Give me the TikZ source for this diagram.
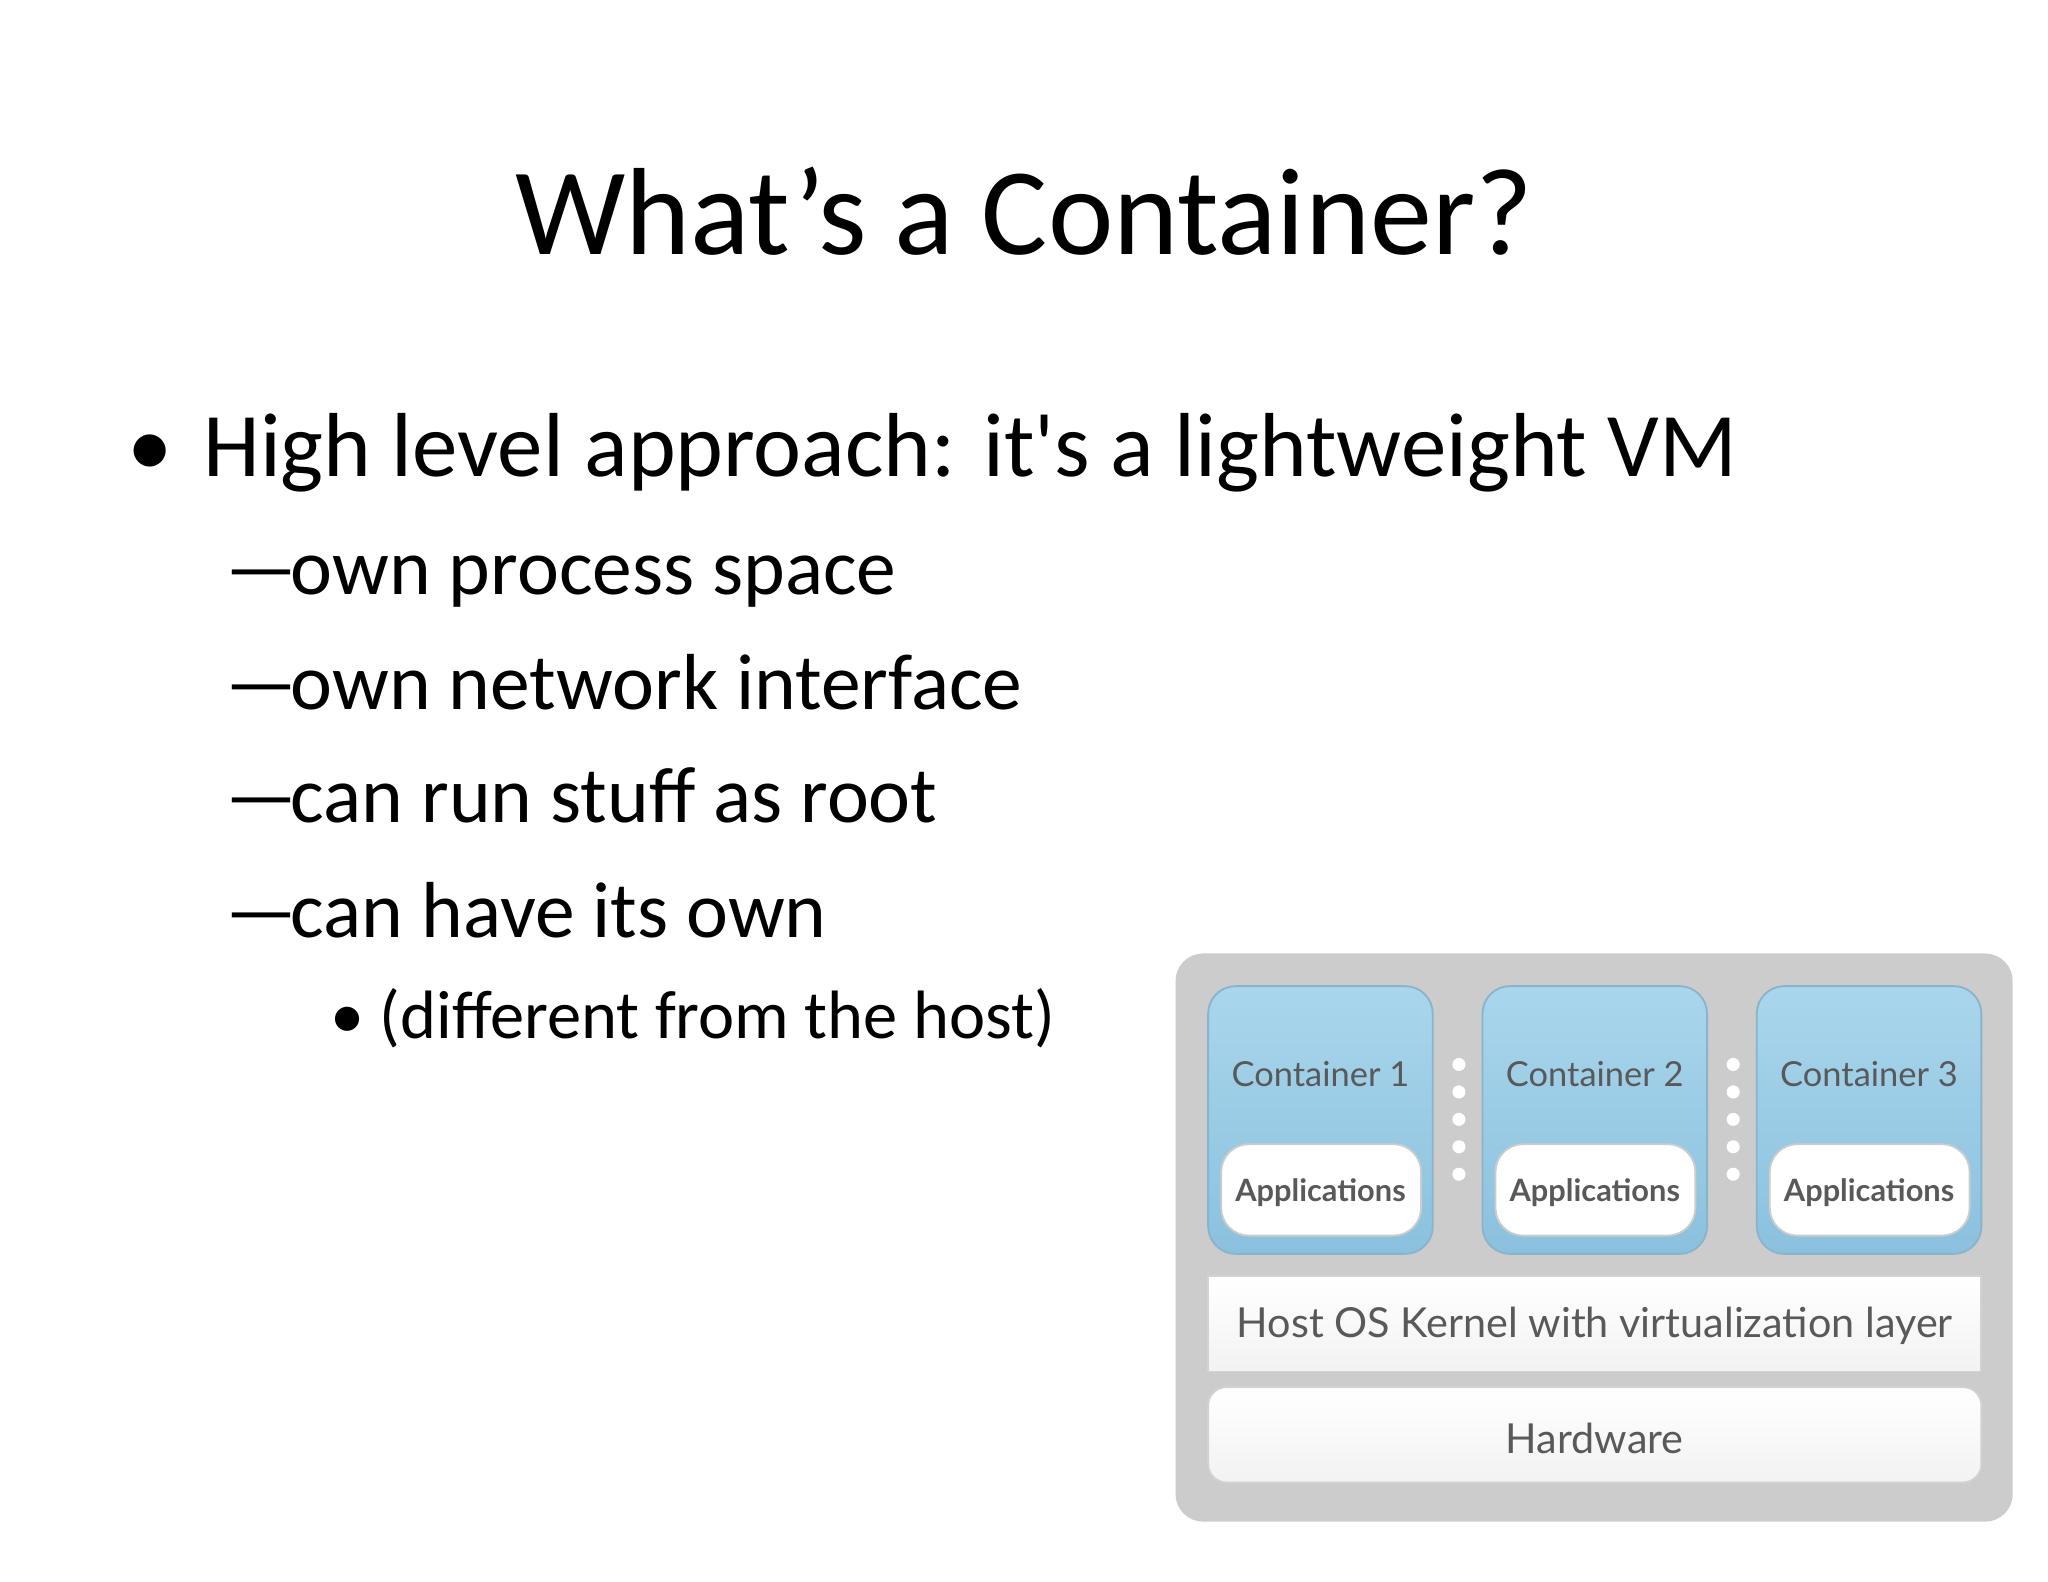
\documentclass[tikz,border=0pt]{standalone}
\usepackage{fontspec}
\setmainfont{Carlito}
\newfontfamily\diag{Lato}
\definecolor{ctop}{HTML}{A9D6EC}
\definecolor{cbot}{HTML}{8BC1DE}
\begin{document}
\begin{tikzpicture}[x=0.01cm,y=-0.01cm,
  cont/.style={rounded corners=6pt,top color=ctop,bottom color=cbot,draw=cbot!80!gray},
  lay/.style={draw=gray!35,top color=white,bottom color=gray!10},
  lbl/.style={text=gray!70!black},
  body/.style={anchor=base west,inner sep=0}]
\useasboundingbox (0,0) rectangle (1568,1211);
\node[anchor=base,inner sep=0,font=\fontsize{27pt}{32pt}\selectfont] (title) at (784,195) {What’s a Container?};
\node[body,font=\fontsize{19.8pt}{24pt}\selectfont] (b0) at (97,365) {•};
\node[body,font=\fontsize{19.8pt}{24pt}\selectfont] (b1) at (155,365) {High level approach: it\textquotesingle s a lightweight VM};
\foreach \y/\t [count=\i] in {455/own process space,543/own network interface,630/can run stuff as root,718/can have its own /sbin/init}{
  \node[body,font=\fontsize{17.3pt}{21pt}\selectfont] (d\i) at (172,\y) {—};
  \node[body,font=\fontsize{17.3pt}{21pt}\selectfont] (s\i) at (222,\y) {\t};
}
\node[body,font=\fontsize{14.9pt}{18pt}\selectfont] (s50) at (252,795) {•};
\node[body,font=\fontsize{14.9pt}{18pt}\selectfont] (s5) at (290,795) {(different from the host)};
\fill[gray!40,rounded corners=6pt] (900,730) rectangle (1541,1165);
\foreach \x/\n in {925/1,1135/2,1345/3}{
  \draw[cont] (\x,755) rectangle ++(172,205);
  \node[lbl,font=\diag\fontsize{7.5pt}{9pt}\selectfont] (c\n) at (\x+86,822) {Container \n};
  \draw[rounded corners=6pt,fill=white,draw=gray!40] (\x+10,876) rectangle ++(153,70);
  \node[lbl,font=\diag\bfseries\fontsize{6.7pt}{8pt}\selectfont] (a\n) at (\x+86,913) {Applications};
}
\foreach \x in {1117,1327}{\foreach \y in {815,836,857,878,899}{\fill[white] (\x,\y) circle (5);}}
\draw[lay] (925,977) rectangle (1517,1050);
\node[lbl,font=\diag\fontsize{9pt}{11pt}\selectfont] (host) at (1221,1015) {Host OS Kernel with virtualization layer};
\draw[lay,rounded corners=4pt] (925,1062) rectangle (1517,1135);
\node[lbl,font=\diag\fontsize{9pt}{11pt}\selectfont] (hw) at (1221,1101) {Hardware};
\end{tikzpicture}
\end{document}
